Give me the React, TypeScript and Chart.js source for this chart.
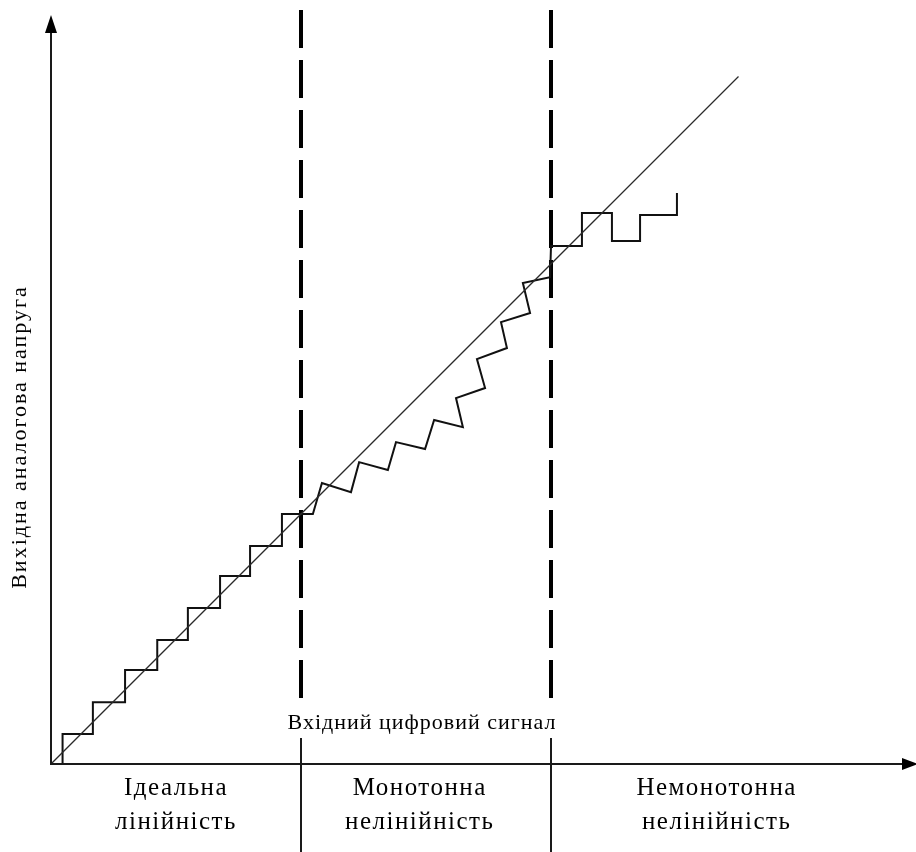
import React, { useEffect, useRef } from 'react';
import { Chart, registerables } from 'chart.js';

Chart.register(...registerables);

// Ideal transfer line (input code -> analog output)
const idealX = [0, 22];
const idealY = [0, 22];

// DAC output staircase: ideal, monotonic nonlinear and non-monotonic regions
const stairX = [
  0, 0.37, 0.37, 1.34, 1.34, 2.37, 2.37, 3.4, 3.4, 4.38, 4.38, 5.41, 5.41, 6.37, 6.37, 7.39, 7.39, 8.38,
  8.67, 9.6, 9.86, 10.78, 11.04, 11.97, 12.26, 13.18, 12.96, 13.89, 13.63, 14.59, 14.4, 15.33, 15.1, 15.97,
  16.0, 16.99, 16.99, 17.95, 17.95, 18.85, 18.85, 20.03, 20.03,
];
const stairY = [
  0, 0, 0.96, 0.96, 1.98, 1.98, 3.01, 3.01, 3.97, 3.97, 4.99, 4.99, 6.02, 6.02, 6.98, 6.98, 8.0, 8.0,
  8.99, 8.7, 9.66, 9.41, 10.3, 10.08, 11.01, 10.78, 11.71, 12.03, 12.96, 13.31, 14.14, 14.43, 15.39, 15.58,
  16.58, 16.58, 17.63, 17.63, 16.74, 16.74, 17.57, 17.57, 18.27,
];

// Region boundaries (input code) and dashed line extent
const boundaryX = [8, 16];
const boundaryTop = 24.13;
const boundaryBottom = 1.92;

const xMax = 27.68;
const yMax = 24.32;

const regionLabels = [
  ['Ідеальна', 'лінійність'],
  ['Монотонна', 'нелінійність'],
  ['Немонотонна', 'нелінійність'],
];
const regionCenters = [4.0, 11.8, 21.3];
const xAxisTitle = 'Вхідний цифровий сигнал';
const yAxisTitle = 'Вихідна аналогова напруга';

const pts = (xs: number[], ys: number[]) => xs.map((x, i) => ({ x, y: ys[i] }));

const decorPlugin = {
  id: 'decor',
  afterDraw(chart: any) {
    const ctx = chart.ctx as CanvasRenderingContext2D;
    const xs = chart.scales.x;
    const ys = chart.scales.y;
    const x0 = xs.getPixelForValue(0);
    const y0 = ys.getPixelForValue(0);
    const W = chart.width;
    const H = chart.height;
    ctx.save();
    ctx.strokeStyle = '#1a1a1a';
    ctx.fillStyle = '#000';
    ctx.lineWidth = 2;
    ctx.setLineDash([]);
    // Y axis
    ctx.beginPath();
    ctx.moveTo(x0, y0 + 1);
    ctx.lineTo(x0, 30);
    ctx.stroke();
    ctx.beginPath();
    ctx.moveTo(x0, 15);
    ctx.lineTo(x0 - 6, 33);
    ctx.lineTo(x0 + 6, 33);
    ctx.closePath();
    ctx.fill();
    // X axis
    ctx.beginPath();
    ctx.moveTo(x0, y0);
    ctx.lineTo(W - 10, y0);
    ctx.stroke();
    ctx.beginPath();
    ctx.moveTo(W + 2, y0);
    ctx.lineTo(W - 14, y0 - 6);
    ctx.lineTo(W - 14, y0 + 6);
    ctx.closePath();
    ctx.fill();
    // thin separators below dashed lines
    ctx.lineWidth = 2;
    boundaryX.forEach((b) => {
      const px = xs.getPixelForValue(b);
      ctx.beginPath();
      ctx.moveTo(px, 738);
      ctx.lineTo(px, H);
      ctx.stroke();
    });
    // texts
    ctx.fillStyle = '#000';
    ctx.textAlign = 'center';
    ctx.textBaseline = 'alphabetic';
    (ctx as any).letterSpacing = '1px';
    ctx.font = '22px "Liberation Serif", "Times New Roman", serif';
    ctx.fillText(xAxisTitle, (xs.getPixelForValue(boundaryX[0]) + xs.getPixelForValue(boundaryX[1])) / 2 - 4, 729);
    (ctx as any).letterSpacing = '1.5px';
    ctx.font = '25px "Liberation Serif", "Times New Roman", serif';
    regionLabels.forEach((lines, i) => {
      const cx = xs.getPixelForValue(regionCenters[i]);
      ctx.fillText(lines[0], cx, 795);
      ctx.fillText(lines[1], cx, 829);
    });
    // Y title
    ctx.save();
    ctx.translate(26, 437);
    ctx.rotate(-Math.PI / 2);
    (ctx as any).letterSpacing = '2px';
    ctx.font = '22px "Liberation Serif", "Times New Roman", serif';
    ctx.fillText(yAxisTitle, 0, 0);
    ctx.restore();
    ctx.restore();
  },
};

export default function App() {
  const ref = useRef<HTMLCanvasElement | null>(null);
  useEffect(() => {
    if (!ref.current) return;
    const chart = new Chart(ref.current, {
      type: 'scatter',
      data: {
        datasets: [
          {
            data: pts(idealX, idealY),
            showLine: true,
            borderColor: '#2a2a2a',
            borderWidth: 1.3,
            pointRadius: 0,
            tension: 0,
          },
          {
            data: pts(stairX, stairY),
            showLine: true,
            borderColor: '#111',
            borderWidth: 2,
            pointRadius: 0,
            tension: 0,
          },
          ...boundaryX.map((b) => ({
            data: [
              { x: b, y: boundaryTop },
              { x: b, y: boundaryBottom },
            ],
            showLine: true,
            borderColor: '#000',
            borderWidth: 4,
            borderDash: [38, 12],
            borderCapStyle: 'butt' as const,
            pointRadius: 0,
            tension: 0,
            clip: false as any,
          })),
        ],
      },
      options: {
        responsive: false,
        animation: false,
        layout: { padding: { left: 51, right: 0, top: 4, bottom: 88 } },
        plugins: { legend: { display: false }, tooltip: { enabled: false } },
        scales: {
          x: { type: 'linear', min: 0, max: xMax, display: false },
          y: { type: 'linear', min: 0, max: yMax, display: false },
        },
      },
      plugins: [decorPlugin],
    });
    return () => chart.destroy();
  }, []);
  return (
    <div style={{ position: 'absolute', left: 0, top: 0, width: 916, height: 852, background: '#fff' }}>
      <canvas ref={ref} width={916} height={852} style={{ display: 'block' }} />
    </div>
  );
}
